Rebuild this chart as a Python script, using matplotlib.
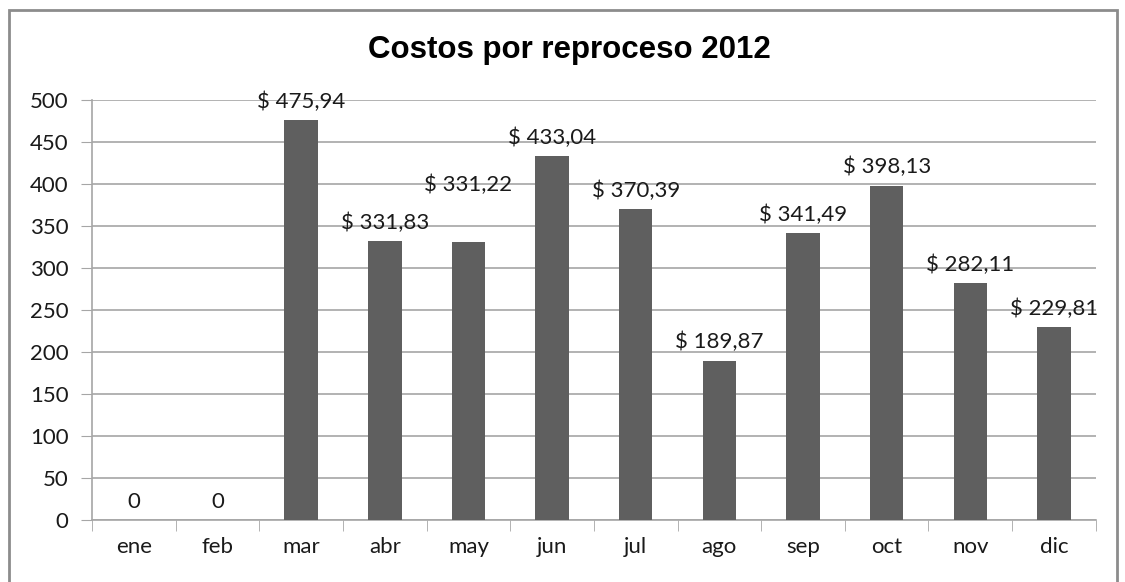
import matplotlib
matplotlib.use("Agg")
import matplotlib.pyplot as plt
from matplotlib.patches import Rectangle
import numpy as np

months = ["ene", "feb", "mar", "abr", "may", "jun", "jul", "ago", "sep", "oct", "nov", "dic"]
costs = [0, 0, 475.94, 331.83, 331.22, 433.04, 370.39, 189.87, 341.49, 398.13, 282.11, 229.81]
# extra lift (points) for the label that was moved up to avoid overlap
label_lift = [0, 0, 0, 0, 28, 0, 0, 0, 0, 0, 0, 0]

bar_color = "#5f5f5f"
grid_color = "#a6a6a6"
label_font = "Lato"


def money(v):
    if v == 0:
        return "0"
    return "$ " + f"{v:.2f}".replace(".", ",")


fig = plt.figure(figsize=(11.25, 5.82), dpi=100)
ax = fig.add_axes([0.0818, 0.1065, 0.8922, 0.7215])

x = np.arange(len(months))
bars = ax.bar(x, costs, width=0.4, color=bar_color, zorder=3)

for b, v, lift in zip(bars, costs, label_lift):
    ax.annotate(money(v), (b.get_x() + b.get_width() / 2, v),
                xytext=(0, 6 + lift), textcoords="offset points",
                ha="center", va="bottom", fontsize=16, family=label_font, color="#1a1a1a")

ax.set_xlim(-0.5, len(months) - 0.5)
ax.set_ylim(0, 500)
ax.set_yticks(np.arange(0, 501, 50))
ax.set_xticks(x)
ax.set_xticklabels(months)
ax.set_xticks(np.arange(-0.5, len(months)), minor=True)

ax.tick_params(axis="x", which="major", length=0, pad=12, labelsize=16)
ax.tick_params(axis="x", which="minor", length=8, color=grid_color, direction="out")
ax.tick_params(axis="y", length=8, color=grid_color, direction="out", pad=9, labelsize=16)
for lab in ax.get_xticklabels() + ax.get_yticklabels():
    lab.set_family(label_font)
    lab.set_color("#1a1a1a")

ax.yaxis.grid(True, color=grid_color, linewidth=1.2, zorder=0)
for side in ["top", "right"]:
    ax.spines[side].set_visible(False)
for side in ["left", "bottom"]:
    ax.spines[side].set_color(grid_color)
    ax.spines[side].set_linewidth(1.2)

fig.text(0.506, 0.914, "Costos por reproceso 2012", ha="center", va="center",
         fontsize=22.5, fontweight="bold", family="Liberation Sans")

# outer chart frame
fig.patches.append(Rectangle((0.008, -0.02), 0.985, 1.003, transform=fig.transFigure,
                             fill=False, edgecolor="#8c8c8c", linewidth=2))

fig.savefig("out.png", dpi=100)
